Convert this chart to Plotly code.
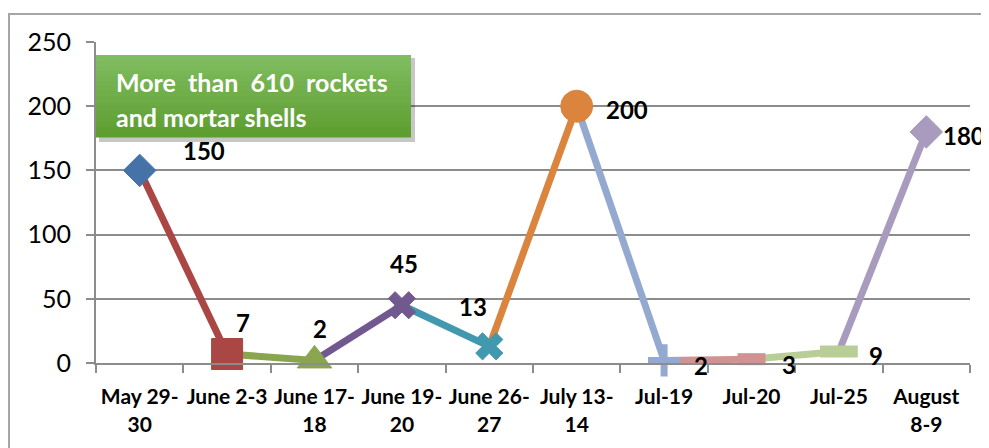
import plotly.graph_objects as go

categories = ["May 29-<br>30", "June 2-3", "June 17-<br>18", "June 19-<br>20", "June 26-<br>27",
              "July 13-<br>14", "Jul-19", "Jul-20", "Jul-25", "August<br>8-9"]
values = [150, 7, 2, 45, 13, 200, 2, 3, 9, 180]
y_ticks = [0, 50, 100, 150, 200, 250]
box_lines = ["More\u00a0 than\u00a0 610\u00a0 rockets", "and mortar shells"]

colors = ["#4572A7", "#AA4643", "#89A54E", "#71588F", "#4198AF",
          "#DB843D", "#93A9CF", "#D19392", "#B9CD96", "#A99BBD"]
symbols = ["diamond", "square", "triangle-up", "x", "x", "circle",
           "cross-thin", "line-ew", "line-ew", "diamond"]
sizes = [25, 31, 30, 24, 24, 32, 23, 20, 27, 25]
label_shift = [(64, 20), (16, 32), (5, 32), (2, 42), (-16, 40),
               (50, -3), (37, -5), (37, -5), (37, -4), (38, -4)]

FONT = "Lato"
OFF = 8  # page body margin
fig = go.Figure()

# segments
for i in range(1, len(values)):
    fig.add_trace(go.Scatter(x=[categories[i - 1], categories[i]], y=[values[i - 1], values[i]],
                             mode="lines", line=dict(color=colors[i], width=7),
                             showlegend=False, hoverinfo="skip"))
# markers
for i, v in enumerate(values):
    sym = symbols[i]
    if sym in ("line-ew", "cross-thin"):
        mk = dict(symbol=sym, size=sizes[i], color=colors[i],
                  line=dict(color=colors[i], width=12 if sym == "line-ew" else 7))
    else:
        mk = dict(symbol=sym, size=sizes[i], color=colors[i], line=dict(color=colors[i], width=1))
    fig.add_trace(go.Scatter(x=[categories[i]], y=[v], mode="markers", marker=mk,
                             showlegend=False, cliponaxis=False))

# data labels
for i, v in enumerate(values):
    dx, dy = label_shift[i]
    fig.add_annotation(x=categories[i], y=v, text=f"<b>{v}</b>", showarrow=False,
                       xshift=dx, yshift=dy, font=dict(family=FONT, size=24, color="#000"))

# window-pixel geometry of the plot area
W, H = 989 - OFF, 448 - OFF
PL, PR, PT, PB = 96, 970, 42, 363
L, R, T, B = PL - OFF, W - (PR - OFF), PT - OFF, H - (PB - OFF)
pw, ph = PR - PL, PB - PT

def px(x):
    return (x - PL) / pw

def py(y):
    return (PB - y) / ph

shapes = []
# outer border
shapes.append(dict(type="rect", xref="paper", yref="paper", x0=px(9), x1=px(1000),
                   y0=py(470), y1=py(14), line=dict(color="#A6A6A6", width=2),
                   fillcolor="rgba(0,0,0,0)", layer="below"))
# box shadow
bx0, bx1, by0, by1 = 96, 411, 55, 137
shapes.append(dict(type="rect", xref="paper", yref="paper", x0=px(bx0 + 3), x1=px(bx1 + 4),
                   y0=py(by1 + 5), y1=py(by0 + 3), line=dict(width=0),
                   fillcolor="rgba(0,0,0,0.22)"))
# gradient box
n = 16
top_c = (0x80, 0xBD, 0x60)
bot_c = (0x5E, 0x9E, 0x30)
for k in range(n):
    t = k / (n - 1)
    c = tuple(int(top_c[j] + (bot_c[j] - top_c[j]) * t) for j in range(3))
    ya = by0 + (by1 - by0) * k / n
    yb = by0 + (by1 - by0) * (k + 1) / n
    shapes.append(dict(type="rect", xref="paper", yref="paper", x0=px(bx0), x1=px(bx1),
                       y0=py(yb + 0.5), y1=py(ya), line=dict(width=0),
                       fillcolor="rgb(%d,%d,%d)" % c))
fig.update_layout(shapes=shapes)

for j, line in enumerate(box_lines):
    fig.add_annotation(xref="paper", yref="paper", x=px(114), y=py(82 + 35 * j), xanchor="left",
                       yanchor="middle", text=f"<b>{line}</b>", showarrow=False,
                       font=dict(family=FONT, size=25, color="white"))

fig.update_layout(
    width=W, height=H, margin=dict(l=L, r=R, t=T, b=B, autoexpand=False),
    paper_bgcolor="white", plot_bgcolor="white",
    font=dict(family=FONT, color="#000"),
    xaxis=dict(type="category", categoryorder="array", categoryarray=categories,
               tickson="boundaries", ticks="outside", ticklen=8, tickcolor="#8C8C8C", tickwidth=2,
               showline=True, linecolor="#8C8C8C", linewidth=2, showgrid=False,
               tickfont=dict(family=FONT, size=21, color="#000"), tickangle=0,
               ticklabelstandoff=14,
               tickvals=categories, ticktext=[f"<b>{c}</b>" for c in categories],
               range=[-0.5, 9.5], fixedrange=True, automargin=False),
    yaxis=dict(range=[0, 250], tickvals=y_ticks, ticks="outside", ticklen=8,
               tickcolor="#8C8C8C", tickwidth=2, showline=True, linecolor="#8C8C8C", linewidth=2,
               showgrid=True, gridcolor="#8C8C8C", gridwidth=2, zeroline=False,
               tickfont=dict(family=FONT, size=25, color="#000"), ticklabelstandoff=10,
               fixedrange=True, automargin=False),
)

fig.write_html("out.html")
